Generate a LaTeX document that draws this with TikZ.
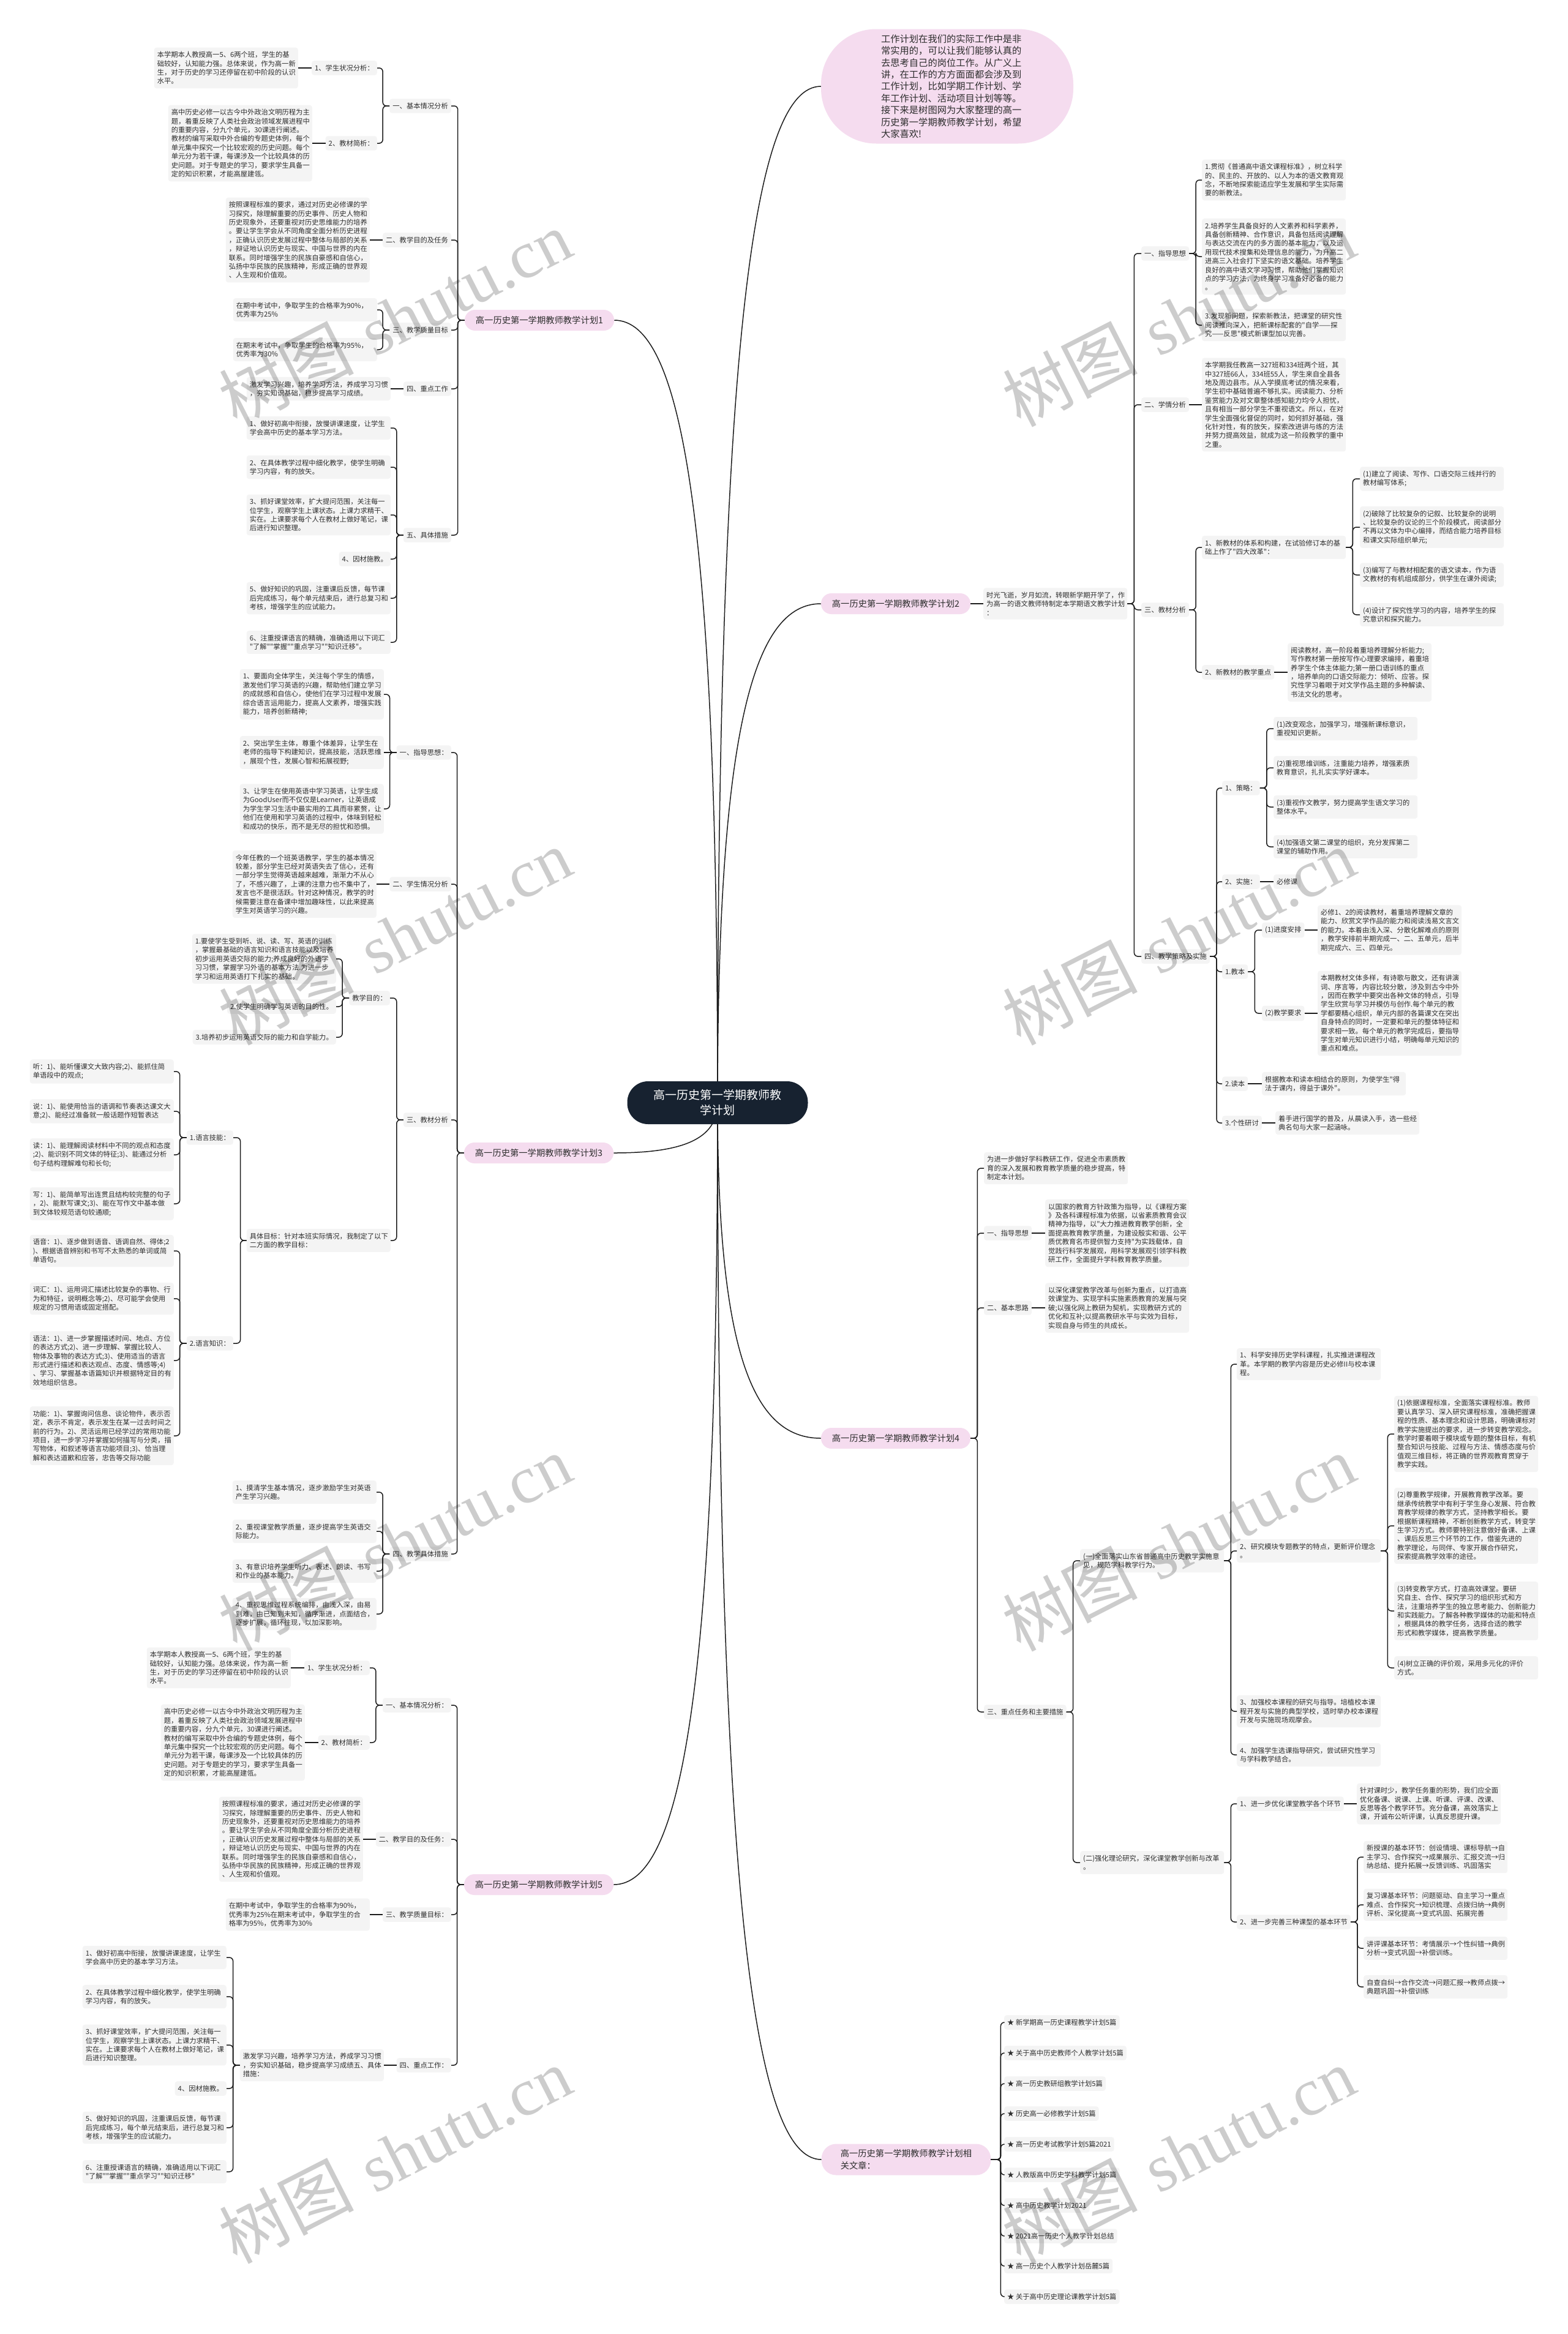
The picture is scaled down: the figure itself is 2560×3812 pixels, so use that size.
\documentclass[tikz,border=0pt]{standalone}
\usepackage{fontspec}
\newfontfamily\cjk{Noto Sans CJK SC}
\newfontfamily\wmlatin{Liberation Serif}
\usepackage{tikz}
\usetikzlibrary{backgrounds}
\definecolor{ink}{HTML}{2E2E2E}
\definecolor{wire}{HTML}{1C1C1C}
\definecolor{card}{HTML}{F4F4F4}
\definecolor{pinkbg}{HTML}{F5DCEF}
\definecolor{navy}{HTML}{172230}
\begin{document}
\begin{tikzpicture}[x=1pt,y=-1pt,
 box/.style={fill=card,rounded corners=4pt,text=ink,align=left,inner xsep=5pt,inner ysep=6.5pt,font=\cjk\fontsize{11.3pt}{14.4pt}\selectfont},
 note/.style={box,text width=225pt},
 lnote/.style={note,anchor=east},rnote/.style={note,anchor=west},
 ltag/.style={box,anchor=east},rtag/.style={box,anchor=west},
 plan/.style={fill=pinkbg,rounded corners=17pt,text=ink,inner xsep=18pt,inner ysep=0pt,minimum height=34pt,font=\cjk\fontsize{14.3pt}{19.4pt}\selectfont},
 bubble/.style={fill=pinkbg,rounded corners=90pt,text=ink,minimum width=412pt,minimum height=187pt,text width=216pt,align=left,inner sep=0pt,font=\cjk\fontsize{15.3pt}{19.4pt}\selectfont},
 root/.style={fill=navy,text=white,rounded corners=34pt,minimum width=295pt,minimum height=70pt,align=center,font=\cjk\fontsize{19pt}{25pt}\selectfont},
 flow/.style={draw=wire,line width=1.5pt,rounded corners=6pt},
 branch/.style={draw=wire,line width=1.5pt},
 wmark/.style={text=black,opacity=.2,rotate=27,font=\fontsize{110pt}{110pt}\selectfont}]
\useasboundingbox (0,0) rectangle (2560,3812);
\node[root] (root) at (1172,1801) {高一历史第一学期教师教\\学计划};
\node[bubble] (intro) at (1547,141) {工作计划在我们的实际工作中是非\\常实用的，可以让我们能够认真的\\去思考自己的岗位工作。从广义上\\讲，在工作的方方面面都会涉及到\\工作计划，比如学期工作计划、学\\年工作计划、活动项目计划等等。\\接下来是树图网为大家整理的高一\\历史第一学期教师教学计划，希望\\大家喜欢!};
\node[plan] (plan1) at (881,523) {高一历史第一学期教师教学计划1};
\node[ltag] (p1a) at (737,173) {一、基本情况分析};
\node[ltag] (p1a1) at (616,111) {1、学生状况分析：};
\node[lnote] (p1a1t) at (487,111) {本学期本人教授高一5、6两个班，学生的基\\础较好，认知能力强。总体来说，作为高一新\\生，对于历史的学习还停留在初中阶段的认识\\水平。};
\node[ltag] (p1a2) at (616,234) {2、教材简析：};
\node[lnote] (p1a2t) at (510,234) {高中历史必修一以古今中外政治文明历程为主\\题，着重反映了人类社会政治领域发展进程中\\的重要内容，分九个单元，30课进行阐述。\\教材的编写采取中外合编的专题史体例，每个\\单元集中探究一个比较宏观的历史问题。每个\\单元分为若干课，每课涉及一个比较具体的历\\史问题。对于专题史的学习，要求学生具备一\\定的知识积累，才能高屋建瓴。};
\node[ltag] (p1b) at (737,392) {二、教学目的及任务};
\node[lnote] (p1bt) at (604,392) {按照课程标准的要求，通过对历史必修课的学\\习探究，除理解重要的历史事件、历史人物和\\历史现象外，还要重视对历史思维能力的培养\\。要让学生学会从不同角度全面分析历史进程\\，正确认识历史发展过程中整体与局部的关系\\，辩证地认识历史与现实、中国与世界的内在\\联系。同时增强学生的民族自豪感和自信心，\\弘扬中华民族的民族精神，形成正确的世界观\\、人生观和价值观。};
\node[ltag] (p1c) at (737,539) {三、教学质量目标};
\node[lnote] (p1c1) at (616,506) {在期中考试中，争取学生的合格率为90\%，\\优秀率为25\%};
\node[lnote] (p1c2) at (616,571) {在期末考试中，争取学生的合格率为95\%，\\优秀率为30\%};
\node[ltag] (p1d) at (737,635) {四、重点工作};
\node[lnote] (p1dt) at (638,635) {激发学习兴趣，培养学习方法，养成学习习惯\\，夯实知识基础，稳步提高学习成绩。};
\node[ltag] (p1e) at (737,874) {五、具体措施};
\node[lnote] (p1e1) at (638,699) {1、做好初高中衔接，放慢讲课速度，让学生\\学会高中历史的基本学习方法。};
\node[lnote] (p1e2) at (638,763) {2、在具体教学过程中细化教学，使学生明确\\学习内容，有的放矢。};
\node[lnote] (p1e3) at (638,841) {3、抓好课堂效率，扩大提问范围，关注每一\\位学生，观察学生上课状态。上课力求精干、\\实在。上课要求每个人在教材上做好笔记，课\\后进行知识整理。};
\node[ltag] (p1e4) at (638,913) {4、因材施教。};
\node[lnote] (p1e5) at (638,977) {5、做好知识的巩固，注重课后反馈，每节课\\后完成练习，每个单元结束后，进行总复习和\\考核，增强学生的应试能力。};
\node[lnote] (p1e6) at (638,1049) {6、注重授课语言的精确，准确适用以下词汇\\"了解""掌握""重点学习""知识迁移"。};
\draw[flow] (plan1.west) -- ++(-11,0) |- (p1a.east);\draw[flow] (plan1.west) -- ++(-11,0) |- (p1b.east);\draw[flow] (plan1.west) -- ++(-11,0) |- (p1c.east);
\draw[flow] (plan1.west) -- ++(-11,0) |- (p1d.east);\draw[flow] (plan1.west) -- ++(-11,0) |- (p1e.east);
\draw[flow] (p1a.west) -- ++(-11,0) |- (p1a1.east);\draw[flow] (p1a.west) -- ++(-11,0) |- (p1a2.east);
\draw[flow] (p1a1.west) -- (p1a1t.east);\draw[flow] (p1a2.west) -- (p1a2t.east);\draw[flow] (p1b.west) -- (p1bt.east);
\draw[flow] (p1c.west) -- ++(-11,0) |- (p1c1.east);\draw[flow] (p1c.west) -- ++(-11,0) |- (p1c2.east);\draw[flow] (p1d.west) -- (p1dt.east);
\draw[flow] (p1e.west) -- ++(-11,0) |- (p1e1.east);\draw[flow] (p1e.west) -- ++(-11,0) |- (p1e2.east);\draw[flow] (p1e.west) -- ++(-11,0) |- (p1e3.east);
\draw[flow] (p1e.west) -- ++(-11,0) |- (p1e4.east);\draw[flow] (p1e.west) -- ++(-11,0) |- (p1e5.east);\draw[flow] (p1e.west) -- ++(-11,0) |- (p1e6.east);
\node[plan] (plan2) at (1463,986) {高一历史第一学期教师教学计划2};
\node[rnote] (p2t) at (1606,986) {时光飞逝，岁月如流，转眼新学期开学了，作\\为高一的语文教师特制定本学期语文教学计划\\：};
\node[rtag] (p2a) at (1864,414) {一、指导思想};
\node[rnote] (p2a1) at (1963,294) {1.贯彻《普通高中语文课程标准》，树立科学\\的、民主的、开放的、以人为本的语文教育观\\念，不断地探索能适应学生发展和学生实际需\\要的新教法。};
\node[rnote] (p2a2) at (1963,419) {2.培养学生具备良好的人文素养和科学素养，\\具备创新精神、合作意识，具备包括阅读理解\\与表达交流在内的多方面的基本能力，以及运\\用现代技术搜集和处理信息的能力，为升高二\\进高三入社会打下坚实的语文基础。培养学生\\良好的高中语文学习习惯，帮助他们掌握知识\\点的学习方法，为终身学习准备好必备的能力\\。};
\node[rnote] (p2a3) at (1963,531) {3.发现新问题，探索新教法，把课堂的研究性\\阅读推向深入，把新课标配套的"自学——探\\究——反思"模式新课型加以完善。};
\node[rtag] (p2b) at (1864,661) {二、学情分析};
\node[rnote] (p2bt) at (1963,661) {本学期我任教高一327班和334班两个班，其\\中327班66人，334班55人，学生来自全县各\\地及周边县市。从入学摸底考试的情况来看，\\学生初中基础普遍不够扎实。阅读能力、分析\\鉴赏能力及对文章整体感知能力均令人担忧，\\且有相当一部分学生不重视语文。所以，在对\\学生全面强化督促的同时，如何抓好基础，强\\化针对性，有的放矢，探索改进讲与练的方法\\并努力提高效益，就成为这一阶段教学的重中\\之重。};
\node[rtag] (p2c) at (1864,996) {三、教材分析};
\node[rnote] (p2c1) at (1963,894) {1、新教材的体系和构建，在试验修订本的基\\础上作了"四大改革"：};
\node[rnote] (p2c1a) at (2221,782) {(1)建立了阅读、写作、口语交际三线并行的\\教材编写体系;};
\node[rnote] (p2c1b) at (2221,861) {(2)破除了比较复杂的记叙、比较复杂的说明\\、比较复杂的议论的三个阶段模式，阅读部分\\不再以文体为中心编排，而结合能力培养目标\\和课文实际组织单元;};
\node[rnote] (p2c1c) at (2221,939) {(3)编写了与教材相配套的语文读本，作为语\\文教材的有机组成部分，供学生在课外阅读;};
\node[rnote] (p2c1d) at (2221,1004) {(4)设计了探究性学习的内容，培养学生的探\\究意识和探究能力。};
\node[rtag] (p2c2) at (1963,1098) {2、新教材的教学重点};
\node[rnote] (p2c2t) at (2103,1098) {阅读教材，高一阶段着重培养理解分析能力;\\写作教材第一册按写作心理要求编排，着重培\\养学生个体主体能力;第一册口语训练的重点\\，培养单向的口语交际能力：倾听、应答。探\\究性学习着眼于对文学作品主题的多种解读、\\书法文化的思考。};
\node[rtag] (p2d) at (1864,1562) {四、教学策略及实施};
\node[rtag] (p2d1) at (1996,1287) {1、策略：};
\node[rnote] (p2d1a) at (2080,1190) {(1)改变观念，加强学习，增强新课标意识，\\重视知识更新。};
\node[rnote] (p2d1b) at (2080,1254) {(2)重视思维训练，注重能力培养，增强素质\\教育意识，扎扎实实学好课本。};
\node[rnote] (p2d1c) at (2080,1318) {(3)重视作文教学，努力提高学生语文学习的\\整体水平。};
\node[rnote] (p2d1d) at (2080,1383) {(4)加强语文第二课堂的组织，充分发挥第二\\课堂的辅助作用。};
\node[rtag] (p2d2) at (1996,1440) {2、实施：};
\node[rtag] (p2d2t) at (2080,1440) {必修课};
\node[rtag] (p2d3) at (1996,1587) {1.教本};
\node[rtag] (p2d3a) at (2061,1519) {(1)进度安排};
\node[rnote] (p2d3at) at (2152,1519) {必修1、2的阅读教材，着重培养理解文章的\\能力、欣赏文学作品的能力和阅读浅易文言文\\的能力。本着由浅入深、分散化解难点的原则\\，教学安排前半期完成一、二、五单元，后半\\期完成六、三、四单元。};
\node[rtag] (p2d3b) at (2061,1655) {(2)教学要求};
\node[rnote] (p2d3bt) at (2152,1655) {本期教材文体多样，有诗歌与散文，还有讲演\\词、序言等，内容比较分散，涉及到古今中外\\，因而在教学中要突出各种文体的特点，引导\\学生欣赏与学习并模仿与创作.每个单元的教\\学都要精心组织，单元内部的各篇课文在突出\\自身特点的同时，一定要和单元的整体特征和\\要求相一致。每个单元的教学完成后，要指导\\学生对单元知识进行小结，明确每单元知识的\\重点和难点。};
\node[rtag] (p2d4) at (1996,1770) {2.读本};
\node[rnote] (p2d4t) at (2061,1770) {根据教本和读本相结合的原则，为使学生"得\\法于课内，得益于课外"。};
\node[rtag] (p2d5) at (1996,1834) {3.个性研讨};
\node[rnote] (p2d5t) at (2083,1834) {着手进行国学的普及，从晨读入手，选一些经\\典名句与大家一起涵咏。};
\draw[flow] (plan2.east) -- (p2t.west);
\draw[flow] (p2t.east) -- ++(11,0) |- (p2a.west);\draw[flow] (p2t.east) -- ++(11,0) |- (p2b.west);\draw[flow] (p2t.east) -- ++(11,0) |- (p2c.west);\draw[flow] (p2t.east) -- ++(11,0) |- (p2d.west);
\draw[flow] (p2a.east) -- ++(11,0) |- (p2a1.west);\draw[flow] (p2a.east) -- ++(11,0) |- (p2a2.west);\draw[flow] (p2a.east) -- ++(11,0) |- (p2a3.west);
\draw[flow] (p2b.east) -- (p2bt.west);
\draw[flow] (p2c.east) -- ++(11,0) |- (p2c1.west);\draw[flow] (p2c.east) -- ++(11,0) |- (p2c2.west);
\draw[flow] (p2c1.east) -- ++(11,0) |- (p2c1a.west);\draw[flow] (p2c1.east) -- ++(11,0) |- (p2c1b.west);\draw[flow] (p2c1.east) -- ++(11,0) |- (p2c1c.west);\draw[flow] (p2c1.east) -- ++(11,0) |- (p2c1d.west);
\draw[flow] (p2c2.east) -- (p2c2t.west);
\draw[flow] (p2d.east) -- ++(11,0) |- (p2d1.west);\draw[flow] (p2d.east) -- ++(11,0) |- (p2d2.west);\draw[flow] (p2d.east) -- ++(11,0) |- (p2d3.west);
\draw[flow] (p2d.east) -- ++(11,0) |- (p2d4.west);\draw[flow] (p2d.east) -- ++(11,0) |- (p2d5.west);
\draw[flow] (p2d1.east) -- ++(11,0) |- (p2d1a.west);\draw[flow] (p2d1.east) -- ++(11,0) |- (p2d1b.west);\draw[flow] (p2d1.east) -- ++(11,0) |- (p2d1c.west);\draw[flow] (p2d1.east) -- ++(11,0) |- (p2d1d.west);
\draw[flow] (p2d2.east) -- (p2d2t.west);
\draw[flow] (p2d3.east) -- ++(11,0) |- (p2d3a.west);\draw[flow] (p2d3.east) -- ++(11,0) |- (p2d3b.west);
\draw[flow] (p2d3a.east) -- (p2d3at.west);\draw[flow] (p2d3b.east) -- (p2d3bt.west);\draw[flow] (p2d4.east) -- (p2d4t.west);\draw[flow] (p2d5.east) -- (p2d5t.west);
\node[plan] (plan3) at (880,1883) {高一历史第一学期教师教学计划3};
\node[ltag] (p3a) at (737,1229) {一、指导思想：};
\node[lnote] (p3a1) at (627,1134) {1、要面向全体学生，关注每个学生的情感，\\激发他们学习英语的兴趣，帮助他们建立学习\\的成就感和自信心，使他们在学习过程中发展\\综合语言运用能力，提高人文素养，增强实践\\能力，培养创新精神;};
\node[lnote] (p3a2) at (627,1229) {2、突出学生主体，尊重个体差异，让学生在\\老师的指导下构建知识，提高技能，活跃思维\\，展现个性，发展心智和拓展视野;};
\node[lnote] (p3a3) at (627,1321) {3、让学生在使用英语中学习英语，让学生成\\为GoodUser而不仅仅是Learner，让英语成\\为学生学习生活中最实用的工具而非累赘，让\\他们在使用和学习英语的过程中，体味到轻松\\和成功的快乐，而不是无尽的担忧和恐惧。};
\node[ltag] (p3b) at (737,1444) {二、学生情况分析};
\node[lnote] (p3bt) at (615,1444) {今年任教的一个班英语教学，学生的基本情况\\较差，部分学生已经对英语失去了信心，还有\\一部分学生觉得英语越来越难，渐渐力不从心\\了，不感兴趣了，上课的注意力也不集中了，\\发言也不是很活跃。针对这种情况，教学的时\\候需要注意在备课中增加趣味性，以此来提高\\学生对英语学习的兴趣。};
\node[ltag] (p3c) at (737,1829) {三、教材分析};
\node[ltag] (p3c1) at (637,1630) {教学目的：};
\node[lnote] (p3c1a) at (549,1566) {1.要使学生受到听、说、读、写、英语的训练\\，掌握最基础的语言知识和语言技能以及培养\\初步运用英语交际的能力;养成良好的外语学\\习习惯，掌握学习外语的基本方法.为进一步\\学习和运用英语打下扎实的基础。};
\node[ltag] (p3c1b) at (549,1644) {2.使学生明确学习英语的目的性。};
\node[ltag] (p3c1c) at (549,1694) {3.培养初步运用英语交际的能力和自学能力。};
\node[lnote] (p3c2) at (638,2026) {具体目标：针对本班实际情况，我制定了以下\\二方面的教学目标：};
\node[ltag] (p3c2a) at (381,1858) {1.语言技能：};
\node[lnote] (p3c2a1) at (284,1750) {听：1)、能听懂课文大致内容;2)、能抓住简\\单语段中的观点;};
\node[lnote] (p3c2a2) at (284,1815) {说：1)、能使用恰当的语调和节奏表达课文大\\意;2)、能经过准备就一般话题作短暂表达};
\node[lnote] (p3c2a3) at (284,1886) {读：1)、能理解阅读材料中不同的观点和态度\\;2)、能识别不同文体的特征;3)、能通过分析\\句子结构理解难句和长句;};
\node[lnote] (p3c2a4) at (284,1966) {写：1)、能简单写出连贯且结构较完整的句子\\，2)、能默写课文;3)、能在写作文中基本做\\到文体较规范语句较通顺;};
\node[ltag] (p3c2b) at (381,2194) {2.语言知识：};
\node[lnote] (p3c2b1) at (284,2043) {语音：1)、逐步做到语音、语调自然、得体;2\\)、根据语音辨别和书写不太熟悉的单词或简\\单语句。};
\node[lnote] (p3c2b2) at (284,2121) {词汇：1)、运用词汇描述比较复杂的事物、行\\为和特征，说明概念等;2)、尽可能学会使用\\规定的习惯用语或固定搭配。};
\node[lnote] (p3c2b3) at (284,2222) {语法：1)、进一步掌握描述时间、地点、方位\\的表达方式;2)、进一步理解、掌握比较人、\\物体及事物的表达方式;3)、使用适当的语言\\形式进行描述和表达观点、态度、情感等;4)\\、学习、掌握基本语篇知识并根据特定目的有\\效地组织信息。};
\node[lnote] (p3c2b4) at (284,2345) {功能：1)、掌握询问信息、谈论物件，表示否\\定，表示不肯定，表示发生在某一过去时间之\\前的行为。2)、灵活运用已经学过的常用功能\\项目，进一步学习并掌握如何描写与分类，描\\写物体，和叙述等语言功能项目;3)、恰当理\\解和表达道歉和应答，忠告等交际功能};
\node[ltag] (p3d) at (737,2538) {四、教学具体措施};
\node[lnote] (p3d1) at (615,2437) {1、摸清学生基本情况，逐步激励学生对英语\\产生学习兴趣。};
\node[lnote] (p3d2) at (615,2501) {2、重视课堂教学质量，逐步提高学生英语交\\际能力。};
\node[lnote] (p3d3) at (615,2566) {3、有意识培养学生听力、表述、朗读、书写\\和作业的基本能力。};
\node[lnote] (p3d4) at (615,2636) {4、重视思维过程系统编排，由浅入深，由易\\到难，由已知到未知，循序渐进，点面结合，\\逐步扩展，循环往现，以加深影响。};
\draw[flow] (plan3.west) -- ++(-11,0) |- (p3a.east);\draw[flow] (plan3.west) -- ++(-11,0) |- (p3b.east);\draw[flow] (plan3.west) -- ++(-11,0) |- (p3c.east);\draw[flow] (plan3.west) -- ++(-11,0) |- (p3d.east);
\draw[flow] (p3a.west) -- ++(-11,0) |- (p3a1.east);\draw[flow] (p3a.west) -- (p3a2.east);\draw[flow] (p3a.west) -- ++(-11,0) |- (p3a3.east);
\draw[flow] (p3b.west) -- (p3bt.east);
\draw[flow] (p3c.west) -- ++(-11,0) |- (p3c1.east);\draw[flow] (p3c.west) -- ++(-11,0) |- (p3c2.east);
\draw[flow] (p3c1.west) -- ++(-11,0) |- (p3c1a.east);\draw[flow] (p3c1.west) -- ++(-11,0) |- (p3c1b.east);\draw[flow] (p3c1.west) -- ++(-11,0) |- (p3c1c.east);
\draw[flow] (p3c2.west) -- ++(-10,0) |- (p3c2a.east);\draw[flow] (p3c2.west) -- ++(-10,0) |- (p3c2b.east);
\draw[flow] (p3c2a.west) -- ++(-11,0) |- (p3c2a1.east);\draw[flow] (p3c2a.west) -- ++(-11,0) |- (p3c2a2.east);\draw[flow] (p3c2a.west) -- ++(-11,0) |- (p3c2a3.east);\draw[flow] (p3c2a.west) -- ++(-11,0) |- (p3c2a4.east);
\draw[flow] (p3c2b.west) -- ++(-11,0) |- (p3c2b1.east);\draw[flow] (p3c2b.west) -- ++(-11,0) |- (p3c2b2.east);\draw[flow] (p3c2b.west) -- ++(-11,0) |- (p3c2b3.east);\draw[flow] (p3c2b.west) -- ++(-11,0) |- (p3c2b4.east);
\draw[flow] (p3d.west) -- ++(-11,0) |- (p3d1.east);\draw[flow] (p3d.west) -- ++(-11,0) |- (p3d2.east);\draw[flow] (p3d.west) -- ++(-11,0) |- (p3d3.east);\draw[flow] (p3d.west) -- ++(-11,0) |- (p3d4.east);
\node[plan] (plan4) at (1463,2349) {高一历史第一学期教师教学计划4};
\node[rnote] (p4t) at (1607,1908) {为进一步做好学科教研工作，促进全市素质教\\育的深入发展和教育教学质量的稳步提高，特\\制定本计划。};
\node[rtag] (p4a) at (1607,2014) {一、指导思想};
\node[rnote] (p4at) at (1707,2014) {以国家的教育方针政策为指导，以《课程方案\\》及各科课程标准为依据，以省素质教育会议\\精神为指导，以"大力推进教育教学创新，全\\面提高教育教学质量，为建设殷实和谐、公平\\质优教育名市提供智力支持"为实践载体，自\\觉践行科学发展观，用科学发展观引领学科教\\研工作，全面提升学科教育教学质量。};
\node[rtag] (p4b) at (1607,2136) {二、基本思路};
\node[rnote] (p4bt) at (1707,2136) {以深化课堂教学改革与创新为重点，以打造高\\效课堂为、实现学科实施素质教育的发展与突\\破;以强化网上教研为契机，实现教研方式的\\优化和互补;以提高教研水平与实效为目标，\\实现自身与师生的共成长。};
\node[rtag] (p4c) at (1607,2796) {三、重点任务和主要措施};
\node[rnote] (p4c1) at (1764,2549) {(一)全面落实山东省普通高中历史教学实施意\\见，规范学科教学行为。};
\node[rnote] (p4c1a) at (2020,2228) {1、科学安排历史学科课程，扎实推进课程改\\革。本学期的教学内容是历史必修II与校本课\\程。};
\node[rnote] (p4c1b) at (2020,2533) {2、研究模块专题教学的特点，更新评价理念\\。};
\node[rnote] (p4c1b1) at (2277,2342) {(1)依据课程标准，全面落实课程标准。教师\\要认真学习、深入研究课程标准，准确把握课\\程的性质、基本理念和设计思路，明确课标对\\教学实施提出的要求，进一步转变教学观念。\\教学时要着眼于模块或专题的整体目标，有机\\整合知识与技能、过程与方法、情感态度与价\\值观三维目标，将正确的世界观教育贯穿于\\教学实践。};
\node[rnote] (p4c1b2) at (2277,2492) {(2)尊重教学规律，开展教育教学改革。要\\继承传统教学中有利于学生身心发展、符合教\\育教学规律的教学方式，坚持教学相长。要\\根据新课程精神，不断创新教学方式，转变学\\生学习方式。教师要特别注意做好备课、上课\\、课后反思三个环节的工作，借鉴先进的\\教学理论，与同伴、专家开展合作研究，\\探索提高教学效率的途径。};
\node[rnote] (p4c1b3) at (2277,2631) {(3)转变教学方式，打造高效课堂。要研\\究自主、合作、探究学习的组织形式和方\\法，注重培养学生的独立思考能力、创新能力\\和实践能力。了解各种教学媒体的功能和特点\\，根据具体的教学任务，选择合适的教学\\形式和教学媒体，提高教学质量。};
\node[rnote] (p4c1b4) at (2277,2724) {(4)树立正确的评价观，采用多元化的评价\\方式。};
\node[rnote] (p4c1c) at (2020,2795) {3、加强校本课程的研究与指导。培植校本课\\程开发与实施的典型学校，适时举办校本课程\\开发与实施现场观摩会。};
\node[rnote] (p4c1d) at (2020,2866) {4、加强学生选课指导研究，尝试研究性学习\\与学科教学结合。};
\node[rnote] (p4c2) at (1764,3042) {(二)强化理论研究，深化课堂教学创新与改革\\。};
\node[rtag] (p4c2a) at (2020,2946) {1、进一步优化课堂教学各个环节};
\node[rnote] (p4c2at) at (2216,2946) {针对课时少，教学任务重的形势，我们应全面\\优化备课、说课、上课、听课、评课、改课、\\反思等各个教学环节。充分备课，高效落实上\\课，开诚布公听评课，认真反思提升课。};
\node[rtag] (p4c2b) at (2020,3139) {2、进一步完善三种课型的基本环节};
\node[rnote] (p4c2b1) at (2227,3033) {新授课的基本环节：创设情境、课标导航→自\\主学习、合作探究→成果展示、汇报交流→归\\纳总结、提升拓展→反馈训练、巩固落实};
\node[rnote] (p4c2b2) at (2227,3111) {复习课基本环节：问题驱动、自主学习→重点\\难点、合作探究→知识梳理、点拨归纳→典例\\评析、深化提高→变式巩固、拓展完善};
\node[rnote] (p4c2b3) at (2227,3182) {讲评课基本环节：考情展示→个性纠错→典例\\分析→变式巩固→补偿训练。};
\node[rnote] (p4c2b4) at (2227,3245) {自查自纠→合作交流→问题汇报→教师点拨→\\典题巩固→补偿训练};
\draw[flow] (plan4.east) -- ++(11,0) |- (p4t.west);\draw[flow] (plan4.east) -- ++(11,0) |- (p4a.west);\draw[flow] (plan4.east) -- ++(11,0) |- (p4b.west);\draw[flow] (plan4.east) -- ++(11,0) |- (p4c.west);
\draw[flow] (p4a.east) -- (p4at.west);\draw[flow] (p4b.east) -- (p4bt.west);
\draw[flow] (p4c.east) -- ++(11,0) |- (p4c1.west);\draw[flow] (p4c.east) -- ++(11,0) |- (p4c2.west);
\draw[flow] (p4c1.east) -- ++(11,0) |- (p4c1a.west);\draw[flow] (p4c1.east) -- ++(11,0) |- (p4c1b.west);\draw[flow] (p4c1.east) -- ++(11,0) |- (p4c1c.west);\draw[flow] (p4c1.east) -- ++(11,0) |- (p4c1d.west);
\draw[flow] (p4c1b.east) -- ++(11,0) |- (p4c1b1.west);\draw[flow] (p4c1b.east) -- ++(11,0) |- (p4c1b2.west);\draw[flow] (p4c1b.east) -- ++(11,0) |- (p4c1b3.west);\draw[flow] (p4c1b.east) -- ++(11,0) |- (p4c1b4.west);
\draw[flow] (p4c2.east) -- ++(11,0) |- (p4c2a.west);\draw[flow] (p4c2.east) -- ++(11,0) |- (p4c2b.west);\draw[flow] (p4c2a.east) -- (p4c2at.west);
\draw[flow] (p4c2b.east) -- ++(11,0) |- (p4c2b1.west);\draw[flow] (p4c2b.east) -- ++(11,0) |- (p4c2b2.west);\draw[flow] (p4c2b.east) -- ++(11,0) |- (p4c2b3.west);\draw[flow] (p4c2b.east) -- ++(11,0) |- (p4c2b4.west);
\node[plan] (plan5) at (880,3078) {高一历史第一学期教师教学计划5};
\node[ltag] (p5a) at (737,2785) {一、基本情况分析：};
\node[ltag] (p5a1) at (604,2724) {1、学生状况分析：};
\node[lnote] (p5a1t) at (475,2724) {本学期本人教授高一5、6两个班，学生的基\\础较好，认知能力强。总体来说，作为高一新\\生，对于历史的学习还停留在初中阶段的认识\\水平。};
\node[ltag] (p5a2) at (604,2846) {2、教材简析：};
\node[lnote] (p5a2t) at (498,2846) {高中历史必修一以古今中外政治文明历程为主\\题，着重反映了人类社会政治领域发展进程中\\的重要内容，分九个单元，30课进行阐述。\\教材的编写采取中外合编的专题史体例，每个\\单元集中探究一个比较宏观的历史问题。每个\\单元分为若干课，每课涉及一个比较具体的历\\史问题。对于专题史的学习，要求学生具备一\\定的知识积累，才能高屋建瓴。};
\node[ltag] (p5b) at (737,3004) {二、教学目的及任务：};
\node[lnote] (p5bt) at (593,3004) {按照课程标准的要求，通过对历史必修课的学\\习探究，除理解重要的历史事件、历史人物和\\历史现象外，还要重视对历史思维能力的培养\\。要让学生学会从不同角度全面分析历史进程\\，正确认识历史发展过程中整体与局部的关系\\，辩证地认识历史与现实、中国与世界的内在\\联系。同时增强学生的民族自豪感和自信心，\\弘扬中华民族的民族精神，形成正确的世界观\\、人生观和价值观。};
\node[ltag] (p5c) at (737,3127) {三、教学质量目标：};
\node[lnote] (p5ct) at (604,3127) {在期中考试中，争取学生的合格率为90\%，\\优秀率为25\%在期末考试中，争取学生的合\\格率为95\%，优秀率为30\%};
\node[ltag] (p5d) at (737,3373) {四、重点工作：};
\node[lnote] (p5dt) at (627,3373) {激发学习兴趣，培养学习方法，养成学习习惯\\，夯实知识基础，稳步提高学习成绩五、具体\\措施：};
\node[lnote] (p5d1) at (370,3197) {1、做好初高中衔接，放慢讲课速度，让学生\\学会高中历史的基本学习方法。};
\node[lnote] (p5d2) at (370,3261) {2、在具体教学过程中细化教学，使学生明确\\学习内容，有的放矢。};
\node[lnote] (p5d3) at (370,3340) {3、抓好课堂效率，扩大提问范围，关注每一\\位学生，观察学生上课状态。上课力求精干、\\实在。上课要求每个人在教材上做好笔记，课\\后进行知识整理。};
\node[ltag] (p5d4) at (370,3411) {4、因材施教。};
\node[lnote] (p5d5) at (370,3475) {5、做好知识的巩固，注重课后反馈，每节课\\后完成练习，每个单元结束后，进行总复习和\\考核，增强学生的应试能力。};
\node[lnote] (p5d6) at (370,3547) {6、注重授课语言的精确，准确适用以下词汇\\"了解""掌握""重点学习""知识迁移"};
\draw[flow] (plan5.west) -- ++(-11,0) |- (p5a.east);\draw[flow] (plan5.west) -- ++(-11,0) |- (p5b.east);\draw[flow] (plan5.west) -- ++(-11,0) |- (p5c.east);\draw[flow] (plan5.west) -- ++(-11,0) |- (p5d.east);
\draw[flow] (p5a.west) -- ++(-11,0) |- (p5a1.east);\draw[flow] (p5a.west) -- ++(-11,0) |- (p5a2.east);
\draw[flow] (p5a1.west) -- (p5a1t.east);\draw[flow] (p5a2.west) -- (p5a2t.east);\draw[flow] (p5b.west) -- (p5bt.east);\draw[flow] (p5c.west) -- (p5ct.east);\draw[flow] (p5d.west) -- (p5dt.east);
\draw[flow] (p5dt.west) -- ++(-11,0) |- (p5d1.east);\draw[flow] (p5dt.west) -- ++(-11,0) |- (p5d2.east);\draw[flow] (p5dt.west) -- ++(-11,0) |- (p5d3.east);
\draw[flow] (p5dt.west) -- ++(-11,0) |- (p5d4.east);\draw[flow] (p5dt.west) -- ++(-11,0) |- (p5d5.east);\draw[flow] (p5dt.west) -- ++(-11,0) |- (p5d6.east);
\node[plan,align=left,rounded corners=24pt,minimum height=51pt,inner xsep=31pt] (related) at (1480,3527) {高一历史第一学期教师教学计划相\\关文章：};
\node[rtag] (r1) at (1640,3303) {★ 新学期高一历史课程教学计划5篇};
\node[rtag] (r2) at (1640,3353) {★ 关于高中历史教师个人教学计划5篇};
\node[rtag] (r3) at (1640,3403) {★ 高一历史教研组教学计划5篇};
\node[rtag] (r4) at (1640,3452) {★ 历史高一必修教学计划5篇};
\node[rtag] (r5) at (1640,3502) {★ 高一历史考试教学计划5篇2021};
\node[rtag] (r6) at (1640,3552) {★ 人教版高中历史学科教学计划5篇};
\node[rtag] (r7) at (1640,3602) {★ 高中历史教学计划2021};
\node[rtag] (r8) at (1640,3652) {★ 2021高一历史个人教学计划总结};
\node[rtag] (r9) at (1640,3701) {★ 高一历史个人教学计划岳麓5篇};
\node[rtag] (r10) at (1640,3751) {★ 关于高中历史理论课教学计划5篇};
\draw[flow] (related.east) -- ++(16,0) |- (r1.west);\draw[flow] (related.east) -- ++(16,0) |- (r2.west);\draw[flow] (related.east) -- ++(16,0) |- (r3.west);\draw[flow] (related.east) -- ++(16,0) |- (r4.west);
\draw[flow] (related.east) -- ++(16,0) |- (r5.west);\draw[flow] (related.east) -- ++(16,0) |- (r6.west);\draw[flow] (related.east) -- ++(16,0) |- (r7.west);
\draw[flow] (related.east) -- ++(16,0) |- (r8.west);\draw[flow] (related.east) -- ++(16,0) |- (r9.west);\draw[flow] (related.east) -- ++(16,0) |- (r10.west);
\begin{scope}[on background layer]
\fill[white] (0,0) rectangle (2560,3812);
\draw[branch] (root.center) .. controls (1172,556) and (1231,141) .. (intro.west);
\draw[branch] (root.center) .. controls (1172,842) and (1113,523) .. (plan1.east);
\draw[branch] (root.center) .. controls (1172,1190) and (1231,986) .. (plan2.west);
\draw[branch] (root.center) .. controls (1172,1862) and (1112,1883) .. (plan3.east);
\draw[branch] (root.center) .. controls (1172,2212) and (1231,2349) .. (plan4.west);
\draw[branch] (root.center) .. controls (1172,2759) and (1113,3078) .. (plan5.east);
\draw[branch] (root.center) .. controls (1172,3096) and (1231,3527) .. (related.west);
\end{scope}
\node[wmark] (wm1) at (645,520) {{\cjk 树图} {\wmlatin shutu.cn}};
\node[wmark] (wm2) at (1925,520) {{\cjk 树图} {\wmlatin shutu.cn}};
\node[wmark] (wm3) at (645,1530) {{\cjk 树图} {\wmlatin shutu.cn}};
\node[wmark] (wm4) at (1925,1530) {{\cjk 树图} {\wmlatin shutu.cn}};
\node[wmark] (wm5) at (645,2520) {{\cjk 树图} {\wmlatin shutu.cn}};
\node[wmark] (wm6) at (1925,2520) {{\cjk 树图} {\wmlatin shutu.cn}};
\node[wmark] (wm7) at (645,3520) {{\cjk 树图} {\wmlatin shutu.cn}};
\node[wmark] (wm8) at (1925,3520) {{\cjk 树图} {\wmlatin shutu.cn}};
\end{tikzpicture}
\end{document}
